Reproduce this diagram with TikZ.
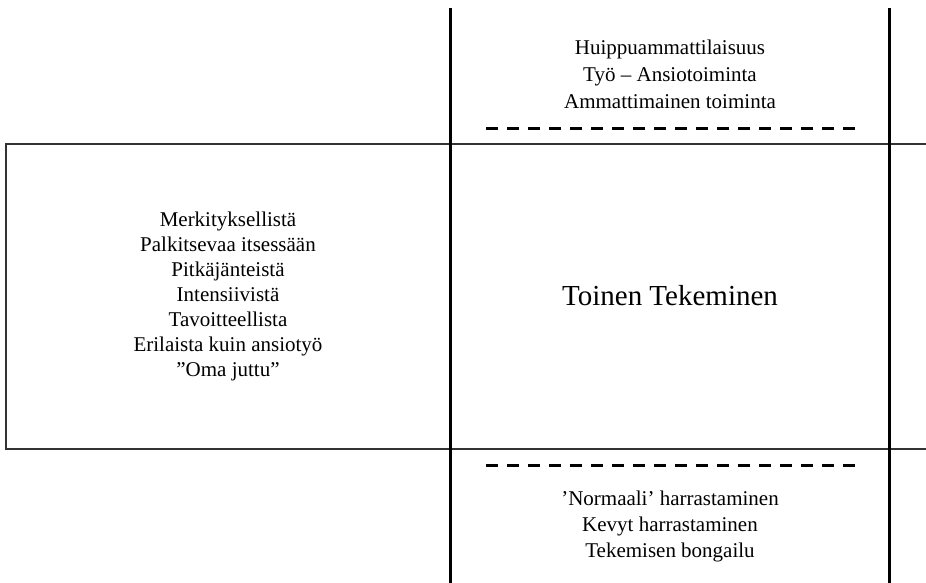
\documentclass[tikz,border=0pt]{standalone}
\usepackage{fontspec}
\setmainfont{Liberation Serif}
\begin{document}
\begin{tikzpicture}[x=1pt,y=-1pt,
  thickline/.style={line width=3pt,black},
  thinline/.style={line width=1.4pt,black!80},
  dashline/.style={line width=3pt,black,dash pattern=on 12pt off 9pt},
  sidetext/.style={align=center,font=\fontsize{21}{25}\selectfont,inner sep=0pt},
  toptext/.style={align=center,font=\fontsize{21}{27}\selectfont,inner sep=0pt},
  bottext/.style={align=center,font=\fontsize{21}{26}\selectfont,inner sep=0pt},
  bigtext/.style={align=center,font=\fontsize{29}{32}\selectfont,inner sep=0pt}]
\useasboundingbox (0,0) rectangle (926,583);
% coordinates
\coordinate (lt) at (6,144);
\coordinate (rb) at (450,449);
\coordinate (ht1) at (926,144);
\coordinate (ht2) at (926,449);
\coordinate (v1a) at (450,8);
\coordinate (v1b) at (450,583);
\coordinate (v2a) at (889,8);
\coordinate (v2b) at (889,583);
\coordinate (d1a) at (486,129);
\coordinate (d1b) at (855,129);
\coordinate (d2a) at (486,465);
\coordinate (d2b) at (855,465);
% box and horizontal lines
\draw[thinline] (lt) rectangle (rb);
\draw[thinline] (rb |- lt) -- (ht1);
\draw[thinline] (rb) -- (ht2);
% vertical lines
\draw[thickline] (v1a) -- (v1b);
\draw[thickline] (v2a) -- (v2b);
% dashed
\draw[dashline] (d1a) -- (d1b);
\draw[dashline] (d2a) -- (d2b);
% texts
\node[toptext] (top) at (670,74) {Huippuammattilaisuus\\Työ – Ansiotoiminta\\Ammattimainen toiminta};
\node[bottext] (bot) at (670,526) {’Normaali’ harrastaminen\\Kevyt harrastaminen\\Tekemisen bongailu};
\node[sidetext] (left) at (228,296) {Merkityksellistä\\Palkitsevaa itsessään\\Pitkäjänteistä\\Intensiivistä\\Tavoitteellista\\Erilaista kuin ansiotyö\\”Oma juttu”};
\node[bigtext] (mid) at (670,296) {Toinen Tekeminen};
\end{tikzpicture}
\end{document}
